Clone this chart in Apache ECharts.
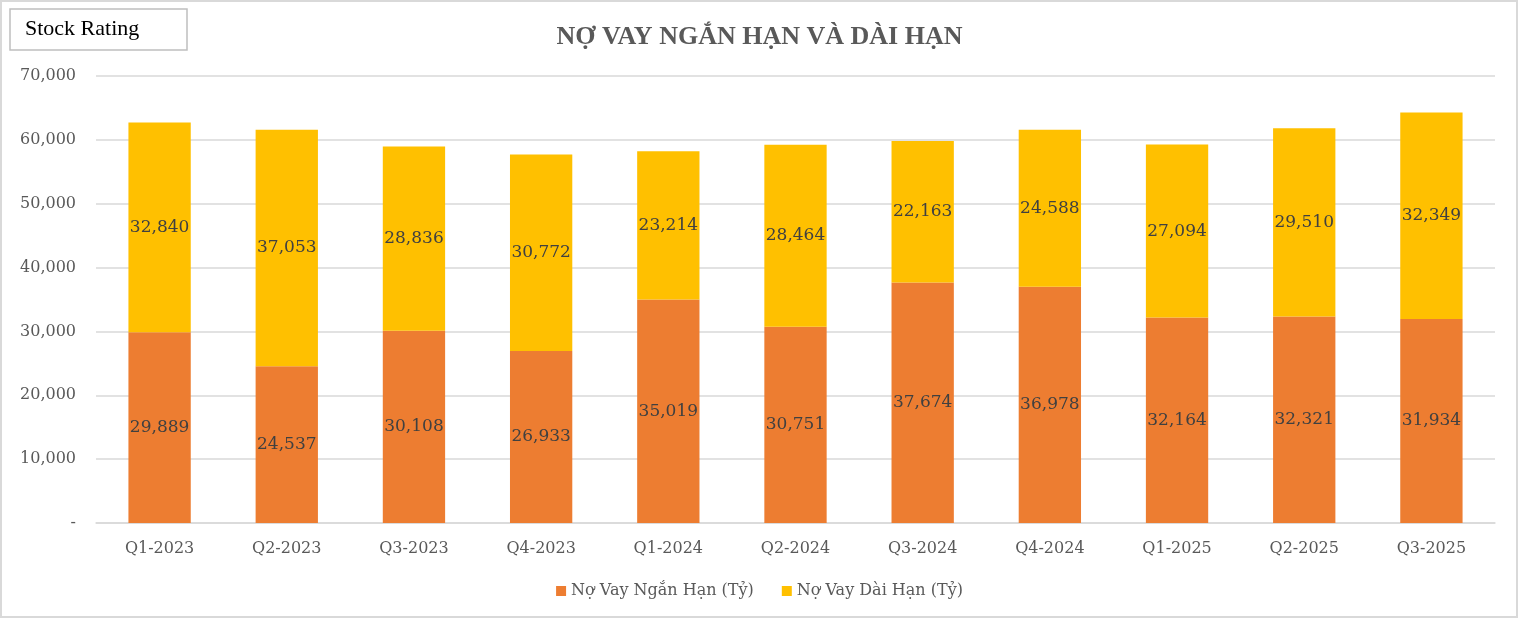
<!DOCTYPE html>
<html><head><meta charset="utf-8">
<script src="https://cdn.jsdelivr.net/npm/echarts@6/dist/echarts.min.js"></script>
<style>html,body{margin:0;padding:0;background:#fff}#c{width:1519px;height:619px}</style>
</head><body><div id="c"></div>
<script>
const categories = ['Q1-2023','Q2-2023','Q3-2023','Q4-2023','Q1-2024','Q2-2024','Q3-2024','Q4-2024','Q1-2025','Q2-2025','Q3-2025'];
const shortTerm = [29889,24537,30108,26933,35019,30751,37674,36978,32164,32321,31934];
const longTerm = [32840,37053,28836,30772,23214,28464,22163,24588,27094,29510,32349];
const seriesNames = ['Nợ Vay Ngắn Hạn (Tỷ)','Nợ Vay Dài Hạn (Tỷ)'];
const FONT = '"DejaVu Serif", "Liberation Serif", serif';
const fmt = v => v === 0 ? '-' : v.toLocaleString('en-US');
const chart = echarts.init(document.getElementById('c'));
chart.setOption({
  animation:false,
  textStyle:{fontFamily:FONT},
  graphic:[
    {type:'rect',shape:{x:1,y:1,width:1516,height:616},style:{fill:'none',stroke:'#d9d9d9',lineWidth:2}},
    {type:'rect',shape:{x:10,y:9,width:177,height:41},style:{fill:'#fff',stroke:'#bfbfbf',lineWidth:1.5}},
    {type:'text',left:25,top:18,style:{text:'Stock Rating',font:'22px "Liberation Serif", serif',fill:'#000'}}
  ],
  title:{text:'NỢ VAY NGẮN HẠN VÀ DÀI HẠN',left:'center',top:19,
    textStyle:{fontFamily:'"Liberation Serif", serif',fontWeight:'bold',fontSize:26,color:'#595959'}},
  legend:{bottom:15,left:'center',itemWidth:10,itemHeight:10,itemGap:28,icon:'rect',
    textStyle:{fontFamily:FONT,fontSize:16,color:'#595959'},data:seriesNames},
  grid:{left:96,right:24,top:76,bottom:96},
  xAxis:{type:'category',data:categories,
    axisLine:{lineStyle:{color:'#d9d9d9',width:1.5}},axisTick:{show:false},
    axisLabel:{fontFamily:FONT,fontSize:16,color:'#595959',margin:18}},
  yAxis:{type:'value',min:0,max:70000,interval:10000,
    axisLine:{show:false},axisTick:{show:false},
    splitLine:{lineStyle:{color:'#d9d9d9',width:1.5}},
    axisLabel:{fontFamily:FONT,fontSize:16,color:'#595959',margin:20,formatter:fmt}},
  series:[
    {name:seriesNames[0],type:'bar',stack:'a',data:shortTerm,barWidth:'49%',
      itemStyle:{color:'#ED7D31'},
      label:{show:true,position:'inside',fontFamily:FONT,fontSize:17,color:'#404040',formatter:p=>fmt(p.value)}},
    {name:seriesNames[1],type:'bar',stack:'a',data:longTerm,barWidth:'49%',
      itemStyle:{color:'#FFC000'},
      label:{show:true,position:'inside',fontFamily:FONT,fontSize:17,color:'#404040',formatter:p=>fmt(p.value)}}
  ]
});
</script></body></html>
